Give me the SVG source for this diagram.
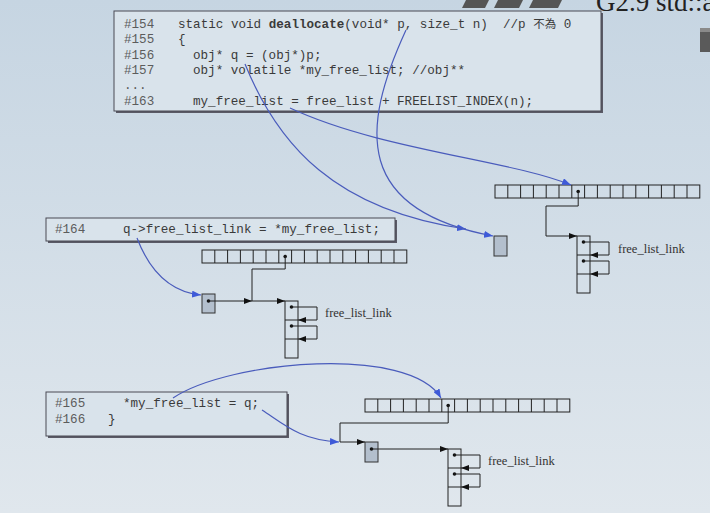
<svg xmlns="http://www.w3.org/2000/svg" xmlns:xlink="http://www.w3.org/1999/xlink" width="710" height="513" viewBox="0 0 710 513">
<defs>
<linearGradient id="bg" x1="0" y1="0" x2="0" y2="1">
<stop offset="0" stop-color="#c6d5e2"/>
<stop offset="1" stop-color="#e0e7ed"/>
</linearGradient>
<marker id="ab" viewBox="0 0 8 6" refX="8" refY="3" markerWidth="8" markerHeight="6" orient="auto" markerUnits="userSpaceOnUse"><path d="M0,0L8,3L0,6z" fill="#111"/></marker>
<marker id="bl" viewBox="0 0 9 7" refX="9" refY="3.5" markerWidth="9" markerHeight="7" orient="auto" markerUnits="userSpaceOnUse"><path d="M0,0L9,3.5L0,7z" fill="#3e5ad8"/></marker>
<g id="arr">
<rect class="ln" width="204.8" height="13"/>
<path class="ln" d="M12.8,0v13M25.6,0v13M38.4,0v13M51.2,0v13M64,0v13M76.8,0v13M89.6,0v13M102.4,0v13M115.2,0v13M128,0v13M140.8,0v13M153.6,0v13M166.4,0v13M179.2,0v13M192,0v13"/>
<circle class="dot" cx="83.2" cy="6.5" r="1.8"/>
</g>
<g id="col">
<rect class="ln" width="13" height="57"/>
<path class="ln" d="M0,19H13M0,38H13"/>
<circle class="dot" cx="6.5" cy="6" r="1.8"/>
<circle class="dot" cx="6.5" cy="25" r="1.8"/>
<path class="ln" d="M6.5,6H32V19H13" marker-end="url(#ab)"/>
<path class="ln" d="M6.5,25H32V38H13" marker-end="url(#ab)"/>
</g>
</defs>
<style>
.ln{fill:none;stroke:#222;stroke-width:1}
.dot{fill:#111}
.qb{fill:#b3bfcd;stroke:#333;stroke-width:1}
.box{fill:#d9e3eb;stroke:#4a4a55;stroke-width:1}
.sh{fill:#5a5a66}
.code{font-family:"Liberation Mono","Courier New",monospace;font-size:12.6px;fill:#3a3a3a}
.num{font-family:"Liberation Mono","Courier New",monospace;font-size:12.6px;fill:#5c5c5c}
.cjk{font-family:"Noto Sans CJK TC","Noto Sans CJK SC",sans-serif;font-size:11.5px}
.lbl{font-family:"Liberation Serif","Times New Roman",serif;font-size:12.5px;fill:#333}
.blue{fill:none;stroke:#4a5cbc;stroke-width:1.2}
</style>
<rect width="710" height="513" fill="url(#bg)"/>

<g id="header">
<polygon points="466,0 489,0 485,8 462,8" fill="#555"/>
<polygon points="498,0 523,0 519,8 494,8" fill="#555"/>
<polygon points="533,0 562,0 558,8 529,8" fill="#555"/>
<text x="596" y="11" font-family="Liberation Serif,'Times New Roman',serif" font-size="27" fill="#222">G2.9 std::a</text>
<rect x="700" y="28" width="12" height="24" fill="#5a5a5a"/>
<rect x="700" y="28" width="12" height="4" fill="#8a8a8a"/>
</g>

<g id="box1">
<rect class="sh" x="116" y="13" width="487" height="100"/>
<rect class="box" x="114" y="11" width="487" height="100"/>
<text class="num" x="124" y="28">#154</text>
<text class="code" x="178" y="28" xml:space="preserve">static void <tspan font-weight="bold">deallocate</tspan>(void* p, size_t n)  //p <tspan class="cjk">不為</tspan> 0</text>
<text class="num" x="124" y="43.3">#155</text>
<text class="code" x="178" y="43.3">{</text>
<text class="num" x="124" y="58.6">#156</text>
<text class="code" x="193" y="58.6">obj* q = (obj*)p;</text>
<text class="num" x="124" y="73.9">#157</text>
<text class="code" x="193" y="73.9">obj* volatile *my_free_list; //obj**</text>
<text class="num" x="124" y="89">...</text>
<text class="num" x="124" y="104.5">#163</text>
<text class="code" x="193" y="104.5">my_free_list = free_list + FREELIST_INDEX(n);</text>
</g>

<g id="box2">
<rect class="sh" x="48" y="220" width="349" height="23"/>
<rect class="box" x="46" y="218" width="349" height="23"/>
<text class="num" x="55" y="233">#164</text>
<text class="code" x="123" y="233">q-&gt;free_list_link = *my_free_list;</text>
</g>

<g id="box3">
<rect class="sh" x="48" y="394" width="241" height="44"/>
<rect class="box" x="46" y="392" width="241" height="44"/>
<text class="num" x="55" y="407">#165</text>
<text class="code" x="123" y="407">*my_free_list = q;</text>
<text class="num" x="55" y="423">#166</text>
<text class="code" x="108" y="423">}</text>
</g>

<g id="array-top"><use xlink:href="#arr" href="#arr" x="495" y="185"/></g>
<g id="chunks-top"><use xlink:href="#col" href="#col" x="577" y="236"/><text class="lbl" x="618" y="253">free_list_link</text></g>
<g id="q-top"><rect class="qb" x="494" y="236" width="13" height="20"/></g>

<g id="array-mid"><use xlink:href="#arr" href="#arr" x="202" y="250"/></g>
<g id="chunks-mid"><use xlink:href="#col" href="#col" x="285" y="301"/><text class="lbl" x="325" y="317">free_list_link</text></g>
<g id="q-mid"><rect class="qb" x="202" y="294" width="13" height="19"/><circle class="dot" cx="208.5" cy="301" r="1.8"/></g>

<g id="array-bot"><use xlink:href="#arr" href="#arr" x="365" y="399"/></g>
<g id="chunks-bot"><use xlink:href="#col" href="#col" x="448" y="449"/><text class="lbl" x="488" y="465">free_list_link</text></g>
<g id="q-bot"><rect class="qb" x="365" y="442" width="13" height="20"/><circle class="dot" cx="371.5" cy="449" r="1.8"/></g>

<g id="connectors">
<path class="ln" d="M578.2,191.5V206H546V236H577" marker-end="url(#ab)"/>
<path class="ln" d="M208.5,301H252" marker-end="url(#ab)"/>
<path class="ln" d="M285.2,256.5V269H252V301"/>
<path class="ln" d="M252,301H285" marker-end="url(#ab)"/>
<path class="ln" d="M448.2,405.5V423H340V442H365" marker-end="url(#ab)"/>
<path class="ln" d="M371.5,449H448" marker-end="url(#ab)"/>
<path class="blue" d="M245,64C278,145 335,210 466,229" marker-end="url(#bl)"/>
<path class="blue" d="M406,30C360,130 355,210 493,236" marker-end="url(#bl)"/>
<path class="blue" d="M290,108C380,150 510,160 571,185" marker-end="url(#bl)"/>
<path class="blue" d="M137,238C150,272 170,292 201,295" marker-end="url(#bl)"/>
<path class="blue" d="M173,398C230,360 410,345 441,398" marker-end="url(#bl)"/>
<path class="blue" d="M262,410C285,425 300,440 339,442" marker-end="url(#bl)"/>
</g>
</svg>
